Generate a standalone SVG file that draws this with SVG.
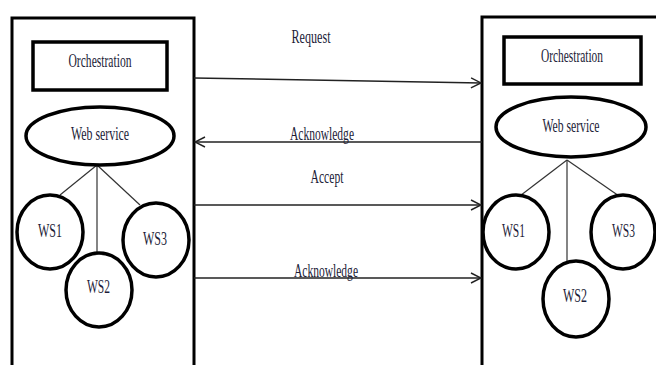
<svg xmlns="http://www.w3.org/2000/svg" width="656" height="365" viewBox="0 0 656 365">
  <style>
    .frame { fill: none; stroke: #000; stroke-width: 3; }
    .box { fill: #fff; stroke: #000; stroke-width: 3.5; }
    .oval { fill: #fff; stroke: #000; stroke-width: 3.5; }
    .link { fill: none; stroke: #333; stroke-width: 1.2; }
    .msg { fill: none; stroke: #222; stroke-width: 1.5; }
    text { font-family: "Liberation Serif", "Times New Roman", serif; fill: #1c1c38; }
    .lbl { font-size: 19px; }
    .ws { font-size: 19px; }
  </style>
  <defs>
    <marker id="open" viewBox="0 0 12 12" refX="11" refY="6" markerWidth="12" markerHeight="12" markerUnits="userSpaceOnUse" orient="auto">
      <path d="M1,1 L11,6 L1,11" fill="none" stroke="#222" stroke-width="1.4"/>
    </marker>
  </defs>

  <!-- left system -->
  <g id="left-system">
    <path class="frame" d="M12,365 V18 H194 V365"/>
    <g id="left-orchestration">
      <rect class="box" x="33" y="42" width="134" height="48"/>
      <text class="lbl" x="100" y="67" text-anchor="middle" textLength="63" lengthAdjust="spacingAndGlyphs">Orchestration</text>
    </g>
    <g id="left-links">
      <line class="link" x1="97" y1="165" x2="60" y2="195"/>
      <line class="link" x1="97" y1="165" x2="97" y2="253"/>
      <line class="link" x1="97" y1="165" x2="140" y2="205"/>
    </g>
    <g id="left-webservice">
      <ellipse class="oval" cx="100" cy="136" rx="74" ry="29"/>
      <text class="lbl" x="100" y="140" text-anchor="middle" textLength="58" lengthAdjust="spacingAndGlyphs">Web service</text>
    </g>
    <g id="left-ws1">
      <ellipse class="oval" cx="50" cy="232" rx="33" ry="37"/>
      <text class="ws" x="38" y="237" textLength="24" lengthAdjust="spacingAndGlyphs">WS1</text>
    </g>
    <g id="left-ws2">
      <ellipse class="oval" cx="99" cy="290" rx="33" ry="37"/>
      <text class="ws" x="87" y="293" textLength="23" lengthAdjust="spacingAndGlyphs">WS2</text>
    </g>
    <g id="left-ws3">
      <ellipse class="oval" cx="156" cy="240" rx="33" ry="37"/>
      <text class="ws" x="143" y="245" textLength="24" lengthAdjust="spacingAndGlyphs">WS3</text>
    </g>
  </g>

  <!-- right system -->
  <g id="right-system">
    <path class="frame" d="M482,365 V17 H658"/>
    <g id="right-orchestration">
      <rect class="box" x="504" y="37" width="137" height="47"/>
      <text class="lbl" x="572" y="62" text-anchor="middle" textLength="62" lengthAdjust="spacingAndGlyphs">Orchestration</text>
    </g>
    <g id="right-links">
      <line class="link" x1="567" y1="160" x2="508" y2="205"/>
      <line class="link" x1="567" y1="160" x2="567" y2="280"/>
      <line class="link" x1="567" y1="160" x2="632" y2="205"/>
    </g>
    <g id="right-webservice">
      <ellipse class="oval" cx="571" cy="127" rx="75" ry="30"/>
      <text class="lbl" x="571" y="132" text-anchor="middle" textLength="57" lengthAdjust="spacingAndGlyphs">Web service</text>
    </g>
    <g id="right-ws1">
      <ellipse class="oval" cx="516" cy="232" rx="33" ry="37" fill="none"/>
      <text class="ws" x="502" y="237" textLength="23" lengthAdjust="spacingAndGlyphs">WS1</text>
    </g>
    <g id="right-ws2">
      <ellipse class="oval" cx="576" cy="299" rx="33" ry="38"/>
      <text class="ws" x="563" y="302" textLength="24" lengthAdjust="spacingAndGlyphs">WS2</text>
    </g>
    <g id="right-ws3">
      <ellipse class="oval" cx="623" cy="232" rx="32" ry="37"/>
      <text class="ws" x="612" y="237" textLength="23" lengthAdjust="spacingAndGlyphs">WS3</text>
    </g>
  </g>

  <!-- messages between the systems -->
  <g id="connectors">
    <line class="msg" x1="194" y1="78" x2="481" y2="83" marker-end="url(#open)"/>
    <line class="msg" x1="482" y1="142" x2="195" y2="142" marker-end="url(#open)"/>
    <line class="msg" x1="194" y1="205" x2="481" y2="205" marker-end="url(#open)"/>
    <line class="msg" x1="194" y1="278" x2="481" y2="278" marker-end="url(#open)"/>
    <text class="lbl" x="311" y="43" text-anchor="middle" textLength="39" lengthAdjust="spacingAndGlyphs">Request</text>
    <text class="lbl" x="322" y="140" text-anchor="middle" textLength="64" lengthAdjust="spacingAndGlyphs">Acknowledge</text>
    <text class="lbl" x="327" y="183" text-anchor="middle" textLength="33" lengthAdjust="spacingAndGlyphs">Accept</text>
    <text class="lbl" x="326" y="277" text-anchor="middle" textLength="64" lengthAdjust="spacingAndGlyphs">Acknowledge</text>
  </g>
</svg>
